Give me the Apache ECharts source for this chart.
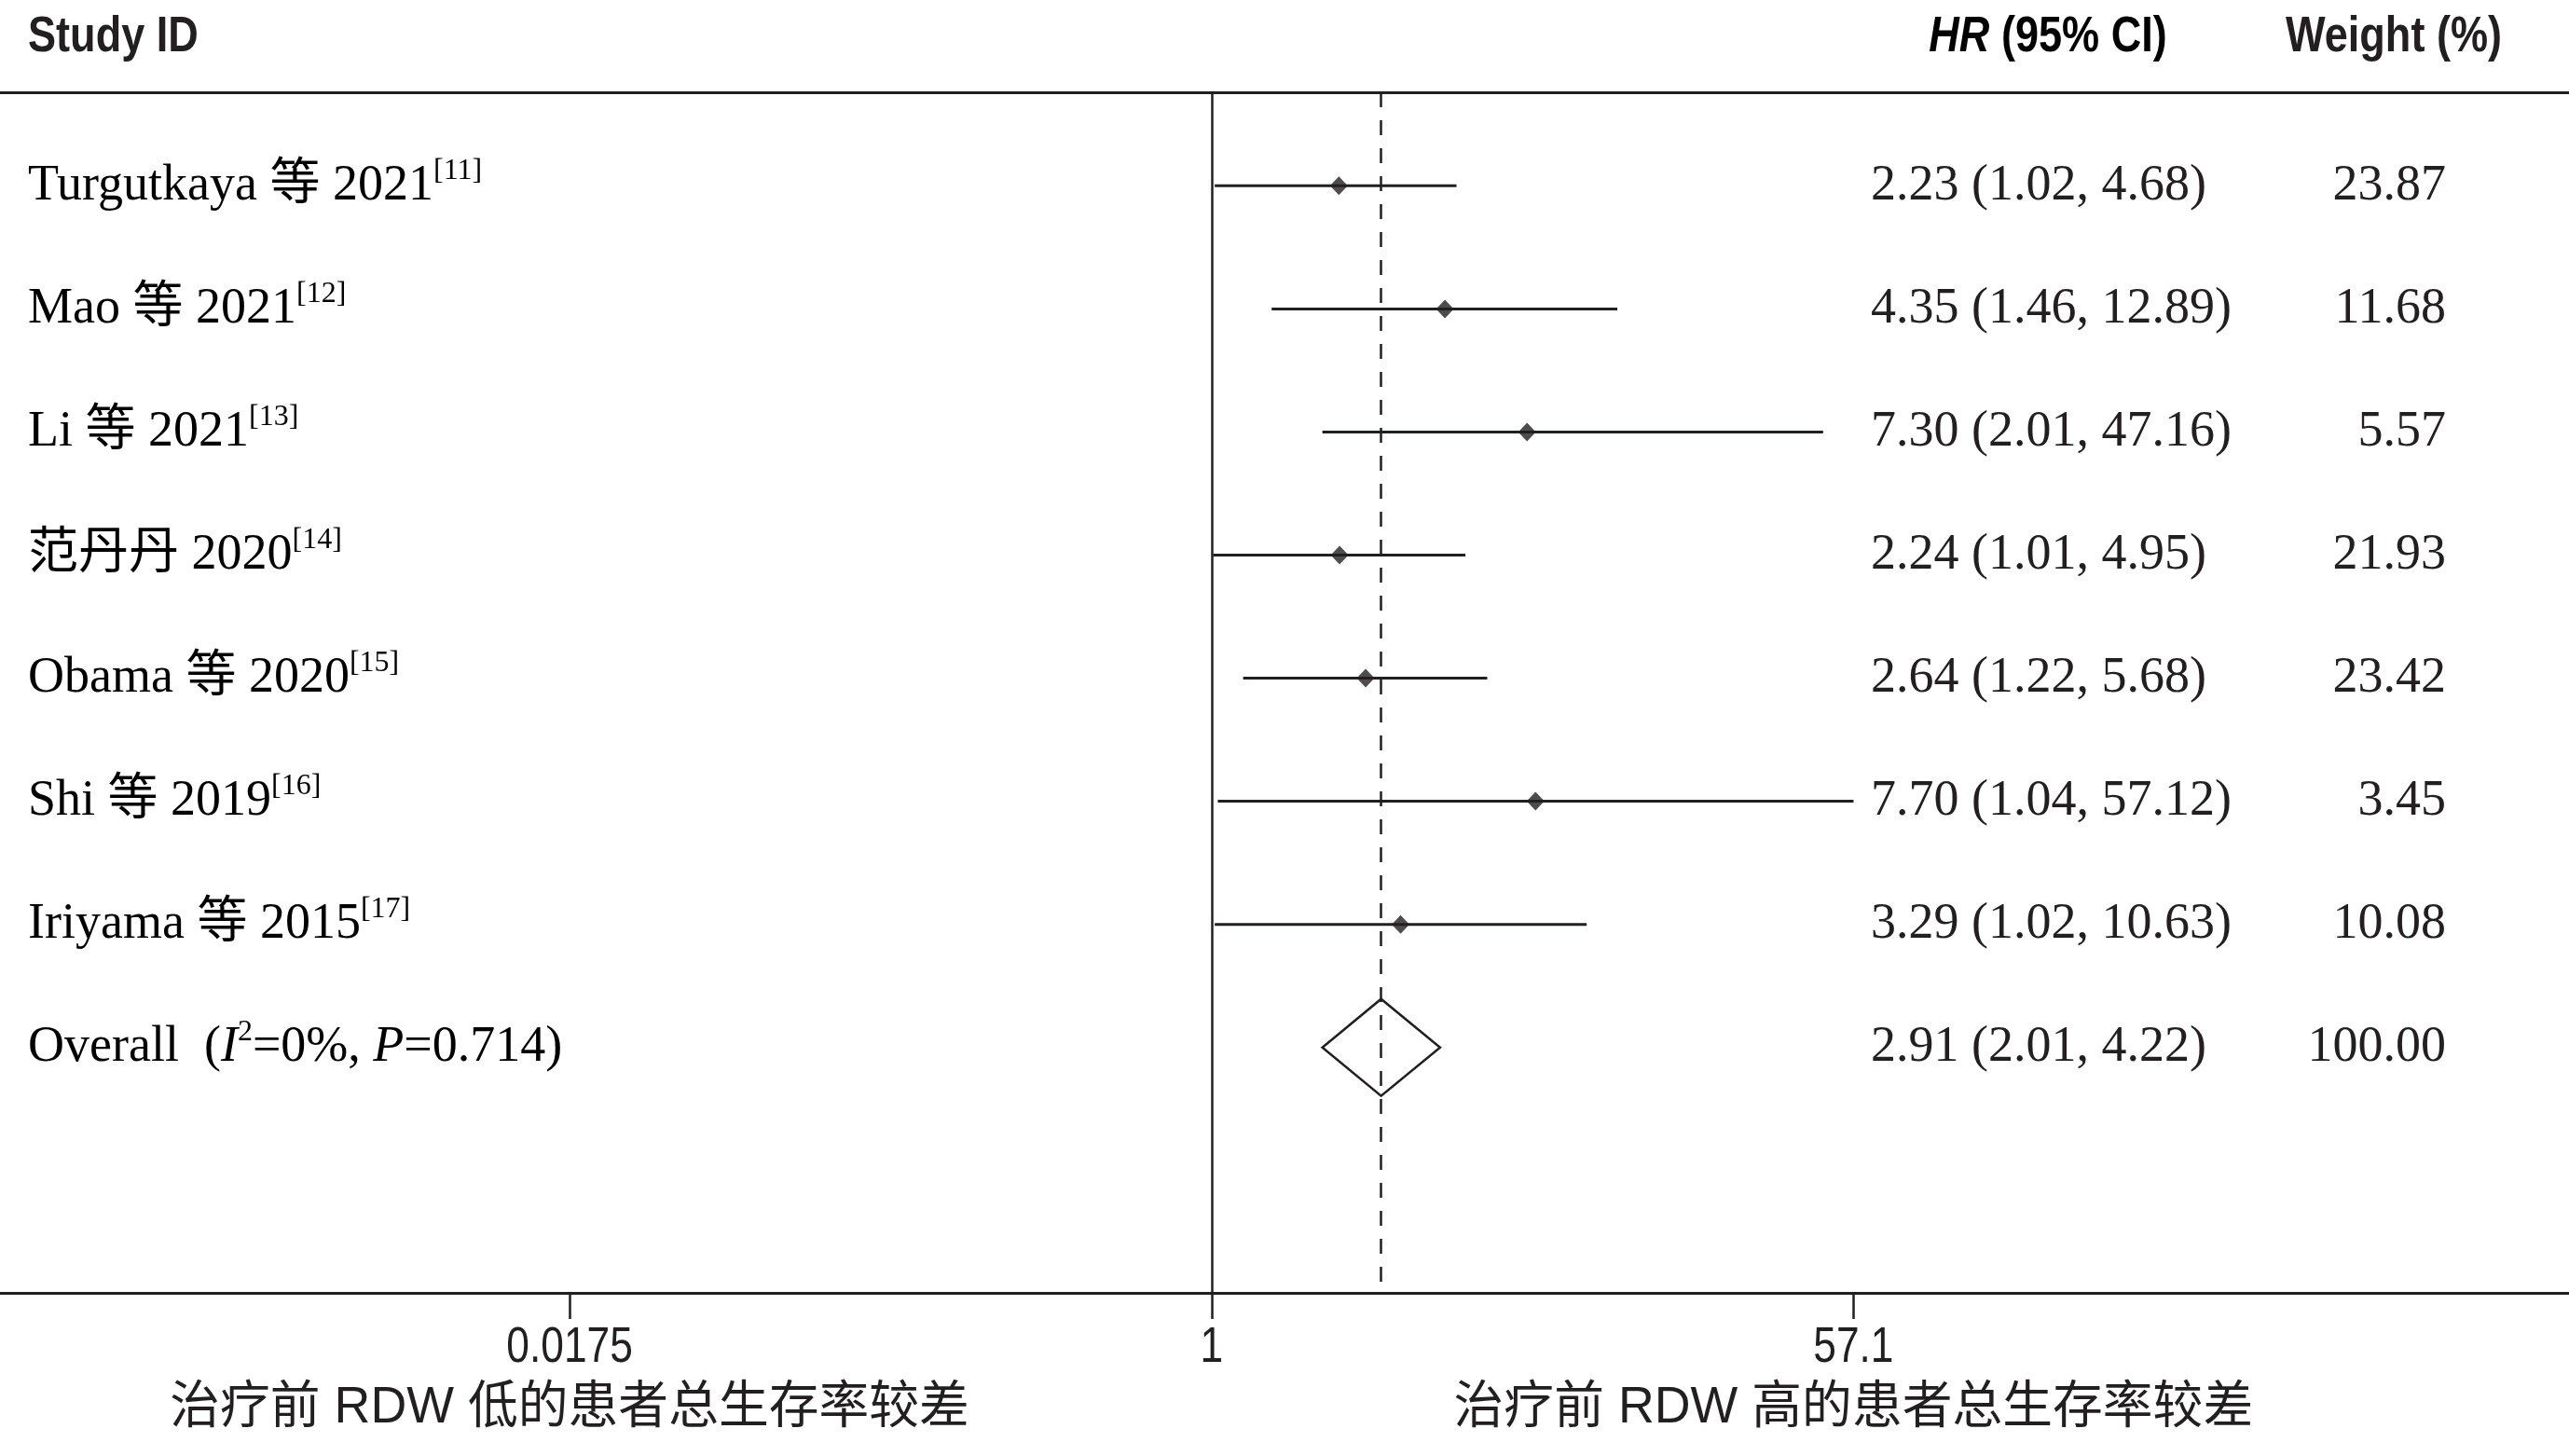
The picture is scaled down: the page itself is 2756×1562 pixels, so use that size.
<!DOCTYPE html>
<html>
<head>
<meta charset="utf-8">
<script src="https://cdn.jsdelivr.net/npm/echarts@6/dist/echarts.min.js"></script>
<style>
html,body{margin:0;padding:0;background:#ffffff;}
#c{width:2756px;height:1562px;}
</style>
</head>
<body>
<div id="c"></div>
<script>
// ---------------- data ----------------
const studyNames = ['Turgutkaya 等 2021', 'Mao 等 2021', 'Li 等 2021', '范丹丹 2020', 'Obama 等 2020', 'Shi 等 2019', 'Iriyama 等 2015'];
const studyRefs  = ['[11]', '[12]', '[13]', '[14]', '[15]', '[16]', '[17]'];
const hrValues   = [2.23, 4.35, 7.30, 2.24, 2.64, 7.70, 3.29];
const ciLower    = [1.02, 1.46, 2.01, 1.01, 1.22, 1.04, 1.02];
const ciUpper    = [4.68, 12.89, 47.16, 4.95, 5.68, 57.12, 10.63];
const weights    = [23.87, 11.68, 5.57, 21.93, 23.42, 3.45, 10.08];
const overallHR = 2.91;
const overallLower = 2.01;
const overallUpper = 4.22;
const overallWeight = 100.00;
const overallI2 = '0%';
const overallP = '0.714';
const tickValues = [0.0175, 1, 57.1];
const tickLabels = ['0.0175', '1', '57.1'];
const axisTitles = ['治疗前 RDW 低的患者总生存率较差', '', '治疗前 RDW 高的患者总生存率较差'];

// ---------------- style ----------------
const INK = '#231f20';
const SERIF = '"Liberation Serif", "Times New Roman", "Noto Sans CJK SC", serif';
const SANS = '"Liberation Sans", Arial, "Noto Sans CJK SC", sans-serif';
const NARROW_SCALE = 0.835;
const FS = 54;
const COL_STUDY = 30, COL_HR = 2007, COL_W = 2624;
const X_MIN = 0.0004833, X_MAX = 5186;
const Y_MIN = -0.76, Y_MAX = 8.994;

const fmt2 = v => v.toFixed(2);
const overallIdx = studyNames.length;

const studyRich = studyNames.map((n, i) => '{a|' + n + '}{s|' + studyRefs[i] + '}')
  .concat(['{a|Overall  (}{i|I}{s|2}{a|=' + overallI2 + ', }{i|P}{a|=' + overallP + ')}']);
const hrTexts = hrValues.map((v, i) => fmt2(v) + ' (' + fmt2(ciLower[i]) + ', ' + fmt2(ciUpper[i]) + ')')
  .concat([fmt2(overallHR) + ' (' + fmt2(overallLower) + ', ' + fmt2(overallUpper) + ')']);
const weightTexts = weights.map(fmt2).concat([fmt2(overallWeight)]);

const richSerif = {
  a: {fontFamily: SERIF, fontSize: FS, lineHeight: 64, color: INK},
  i: {fontFamily: SERIF, fontSize: FS, lineHeight: 64, fontStyle: 'italic', color: INK},
  s: {fontFamily: SERIF, fontSize: 32, lineHeight: 38, verticalAlign: 'top', color: INK}
};

const chart = echarts.init(document.getElementById('c'));

const option = {
  backgroundColor: '#ffffff',
  animation: false,
  grid: {left: 0, right: 0, top: 99, bottom: 175, containLabel: false},
  xAxis: [{
    type: 'log',
    min: X_MIN,
    max: X_MAX,
    position: 'bottom',
    axisLine: {show: true, onZero: false, lineStyle: {color: INK, width: 3}},
    axisTick: {show: true, length: 28, lineStyle: {color: INK, width: 2.5}, customValues: tickValues},
    axisLabel: {show: false},
    splitLine: {show: false}
  }, {
    type: 'value',
    position: 'top',
    min: 0, max: 1,
    axisLine: {show: true, onZero: false, lineStyle: {color: INK, width: 3}},
    axisTick: {show: false},
    axisLabel: {show: false},
    splitLine: {show: false}
  }],
  yAxis: {
    type: 'value',
    inverse: true,
    min: Y_MIN,
    max: Y_MAX,
    show: false
  },
  graphic: [
    {type: 'text', x: COL_STUDY, y: 40, scaleX: NARROW_SCALE, style: {text: 'Study ID', fill: INK, fontFamily: SANS, fontSize: FS, fontWeight: 'bold', align: 'left', verticalAlign: 'middle'}},
    {type: 'text', x: 2197, y: 40, scaleX: NARROW_SCALE, style: {
      text: '{h|HR}{b| (95% CI)}', align: 'center', verticalAlign: 'middle',
      rich: {
        h: {fontFamily: SANS, fontSize: FS, fontWeight: 'bold', fontStyle: 'italic', color: INK},
        b: {fontFamily: SANS, fontSize: FS, fontWeight: 'bold', color: INK}
      }}},
    {type: 'text', x: 2568, y: 40, scaleX: NARROW_SCALE, style: {text: 'Weight (%)', fill: INK, fontFamily: SANS, fontSize: FS, fontWeight: 'bold', align: 'center', verticalAlign: 'middle'}}
  ],
  series: [
    {
      // confidence intervals
      type: 'custom',
      name: 'ci',
      silent: true,
      data: hrValues.map((v, i) => [ciLower[i], ciUpper[i], i]),
      encode: {x: [0, 1], y: 2},
      renderItem: function (params, api) {
        const p1 = api.coord([api.value(0), api.value(2)]);
        const p2 = api.coord([api.value(1), api.value(2)]);
        return {type: 'line', shape: {x1: p1[0], y1: p1[1], x2: p2[0], y2: p2[1]}, style: {stroke: INK, lineWidth: 3}};
      },
      z: 3
    },
    {
      // point estimates
      type: 'scatter',
      name: 'hr',
      silent: true,
      symbol: 'diamond',
      symbolSize: [19, 20],
      itemStyle: {color: INK},
      data: hrValues.map((v, i) => [v, i]),
      z: 4,
      markLine: {
        silent: true,
        symbol: ['none', 'none'],
        label: {show: false},
        data: [
          {xAxis: 1, lineStyle: {color: INK, width: 2.5, type: 'solid'}},
          {xAxis: overallHR, lineStyle: {color: INK, width: 2.5, type: [16, 14]}}
        ]
      }
    },
    {
      // overall diamond
      type: 'custom',
      name: 'overall',
      silent: true,
      data: [[overallLower, overallUpper, overallHR, overallIdx]],
      encode: {x: [0, 1, 2], y: 3},
      renderItem: function (params, api) {
        const y = api.value(3);
        const pl = api.coord([api.value(0), y]);
        const pr = api.coord([api.value(1), y]);
        const pc = api.coord([api.value(2), y]);
        const H = 52;
        return {type: 'polygon', shape: {points: [[pl[0], pl[1]], [pc[0], pc[1] - H], [pr[0], pr[1]], [pc[0], pc[1] + H]]},
          style: {fill: 'rgba(0,0,0,0)', stroke: INK, lineWidth: 2.5}};
      },
      z: 5
    },
    {
      // table text
      type: 'custom',
      name: 'table',
      silent: true,
      clip: false,
      data: studyRich.map((_, k) => [1, k]),
      encode: {x: 0, y: 1},
      renderItem: function (params, api) {
        const k = params.dataIndex;
        const y = api.coord([1, api.value(1)])[1];
        return {type: 'group', children: [
          {type: 'text', x: COL_STUDY, y: y, style: {text: studyRich[k], rich: richSerif, align: 'left', verticalAlign: 'middle'}},
          {type: 'text', x: COL_HR, y: y, style: {text: hrTexts[k], fill: INK, fontFamily: SERIF, fontSize: FS, align: 'left', verticalAlign: 'middle'}},
          {type: 'text', x: COL_W, y: y, style: {text: weightTexts[k], fill: INK, fontFamily: SERIF, fontSize: FS, align: 'right', verticalAlign: 'middle'}}
        ]};
      },
      z: 6
    },
    {
      // axis tick labels and side titles, placed at the log-axis tick positions
      type: 'custom',
      name: 'axisText',
      silent: true,
      clip: false,
      data: tickValues.map(v => [v, Y_MAX]),
      encode: {x: 0, y: 1},
      renderItem: function (params, api) {
        const k = params.dataIndex;
        const p = api.coord([api.value(0), api.value(1)]);
        const children = [
          {type: 'text', x: p[0], y: p[1] + 59, scaleX: 0.82,
            style: {text: tickLabels[k], fill: INK, fontFamily: SANS, fontSize: FS, align: 'center', verticalAlign: 'middle'}}
        ];
        if (axisTitles[k]) {
          children.push({type: 'text', x: p[0], y: p[1] + 124, scaleX: 0.978,
            style: {text: axisTitles[k], fill: INK, fontFamily: SANS, fontSize: 55, align: 'center', verticalAlign: 'middle'}});
        }
        return {type: 'group', children: children};
      },
      z: 6
    }
  ]
};
chart.setOption(option);
</script>
</body>
</html>
